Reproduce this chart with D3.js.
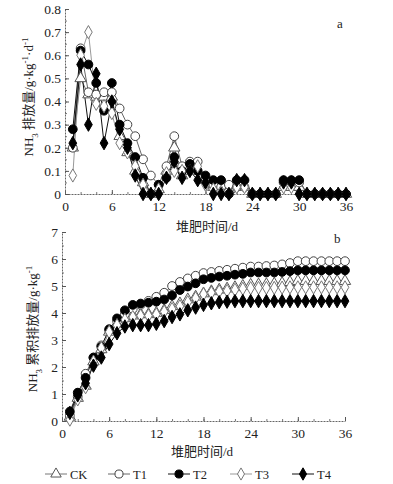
<!DOCTYPE html>
<html>
<head>
<meta charset="utf-8">
<script src="https://cdn.jsdelivr.net/npm/d3@7"></script>
<style>
  body { margin: 0; background: #fff; }
  svg text { font-family: "Liberation Serif", "Times New Roman", Times, serif; fill: #222; }
  svg text.cjk { font-family: "Liberation Serif", "Times New Roman", "Noto Sans CJK SC", serif; }
</style>
</head>
<body>
<div id="chart"></div>
<script>
let days = d3.range(1, 37);
let seriesNames = ["CK", "T1", "T2", "T3", "T4"];
let xTicks = [0, 6, 12, 18, 24, 30, 36];
let rateTicks = [0, 0.1, 0.2, 0.3, 0.4, 0.5, 0.6, 0.7, 0.8];
let cumTicks = [0, 1, 2, 3, 4, 5, 6, 7];

// daily NH3 emission, g/kg/d (panel a)
let rateCK = [0.2, 0.5, 0.43, 0.42, 0.42, 0.42, 0.25, 0.18, 0.1, 0.05, 0, 0.02, 0.1, 0.2, 0.08, 0.1, 0.1, 0.06, 0.03, 0.02, 0.02, 0.03, 0.03, 0, 0, 0, 0, 0.03, 0.03, 0.03, 0, 0, 0, 0, 0, 0];
let rateT1 = [0.2, 0.63, 0.44, 0.43, 0.44, 0.44, 0.37, 0.3, 0.25, 0.15, 0.08, 0.04, 0.12, 0.25, 0.12, 0.14, 0.14, 0.06, 0.04, 0.03, 0.04, 0.03, 0.03, 0, 0, 0, 0, 0.05, 0.05, 0.05, 0, 0, 0, 0, 0, 0];
let rateT2 = [0.28, 0.62, 0.56, 0.48, 0.36, 0.48, 0.3, 0.22, 0.16, 0.07, 0, 0.04, 0.07, 0.16, 0.1, 0.13, 0.1, 0.08, 0.06, 0.06, 0, 0.06, 0.06, 0, 0, 0, 0, 0.06, 0.06, 0.06, 0, 0, 0, 0, 0, 0];
let rateT3 = [0.08, 0.6, 0.7, 0.39, 0.38, 0.35, 0.22, 0.18, 0.12, 0.04, 0, 0.02, 0.09, 0.1, 0.1, 0.1, 0.12, 0.04, 0.02, 0.01, 0, 0.03, 0.03, 0, 0, 0, 0, 0.03, 0.03, 0, 0, 0, 0, 0, 0, 0];
let rateT4 = [0.22, 0.56, 0.3, 0.52, 0.22, 0.4, 0.28, 0.2, 0.08, 0, 0, 0, 0.07, 0.14, 0.07, 0.1, 0.06, 0.05, 0, 0, 0, 0.06, 0.06, 0, 0, 0, 0, 0.05, 0.05, 0, 0, 0, 0, 0, 0, 0];

// cumulative NH3 emission, g/kg (panel b)
let cumCK = [0.15, 0.85, 1.3, 2.2, 2.65, 3.3, 3.6, 3.8, 3.9, 3.95, 3.95, 4.0, 4.1, 4.25, 4.35, 4.5, 4.6, 4.72, 4.8, 4.86, 4.9, 4.95, 5.0, 5.04, 5.05, 5.06, 5.08, 5.1, 5.14, 5.18, 5.18, 5.18, 5.18, 5.18, 5.18, 5.18];
let cumT1 = [0.2, 0.9, 1.75, 2.35, 2.8, 3.35, 3.7, 3.95, 4.15, 4.3, 4.45, 4.6, 4.75, 5.0, 5.15, 5.28, 5.38, 5.48, 5.52, 5.56, 5.6, 5.64, 5.68, 5.72, 5.72, 5.74, 5.76, 5.8, 5.85, 5.92, 5.92, 5.92, 5.92, 5.92, 5.92, 5.92];
let cumT2 = [0.35, 1.05, 1.6, 2.35, 2.75, 3.4, 3.8, 4.1, 4.3, 4.35, 4.38, 4.42, 4.5, 4.65, 4.85, 4.98, 5.1, 5.25, 5.3, 5.35, 5.38, 5.42, 5.45, 5.5, 5.5, 5.5, 5.5, 5.52, 5.55, 5.58, 5.58, 5.58, 5.58, 5.58, 5.58, 5.58];
let cumT3 = [0.05, 0.8, 1.25, 2.2, 2.7, 3.3, 3.55, 3.75, 3.85, 3.9, 3.9, 3.95, 4.05, 4.15, 4.25, 4.4, 4.55, 4.7, 4.75, 4.8, 4.82, 4.86, 4.9, 4.92, 4.93, 4.93, 4.93, 4.94, 4.95, 4.95, 4.95, 4.95, 4.95, 4.95, 4.95, 4.95];
let cumT4 = [0.3, 0.95, 1.4, 2.05, 2.35, 2.85, 3.25, 3.5, 3.55, 3.55, 3.55, 3.6, 3.7, 3.85, 3.95, 4.1, 4.2, 4.3, 4.36, 4.4, 4.42, 4.44, 4.44, 4.44, 4.44, 4.44, 4.44, 4.44, 4.44, 4.44, 4.44, 4.44, 4.44, 4.44, 4.44, 4.44];

let rates = [rateCK, rateT1, rateT2, rateT3, rateT4];
let cums = [cumCK, cumT1, cumT2, cumT3, cumT4];

// marker style per series
let styles = [
    {sym: d3.symbolTriangle, size: 56, fill: "#fff", stroke: "#555", line: "#777"},
    {sym: d3.symbolCircle, size: 60, fill: "#fff", stroke: "#444", line: "#666"},
    {sym: d3.symbolCircle, size: 60, fill: "#000", stroke: "#000", line: "#111"},
    {sym: d3.symbolDiamond, size: 50, fill: "#fff", stroke: "#777", line: "#999"},
    {sym: d3.symbolDiamond, size: 52, fill: "#000", stroke: "#000", line: "#111"}
];

let svg = d3.select("#chart").append("svg")
    .attr("width", 393)
    .attr("height", 484);

function drawPanel(opts) {
    let x = d3.scaleLinear().domain([0, 36]).range([opts.x0, opts.x1]);
    let y = d3.scaleLinear().domain(opts.yDomain).range([opts.y0, opts.y1]);
    let g = svg.append("g");

    // minor ticks
    g.append("g").attr("transform", "translate(0," + opts.y0 + ")")
        .call(d3.axisBottom(x).tickValues(d3.range(0, 37, 2)).tickSize(-2).tickFormat(""))
        .call(a => a.select(".domain").remove())
        .call(a => a.selectAll("line").attr("stroke", "#777"));
    g.append("g").attr("transform", "translate(" + opts.x0 + ",0)")
        .call(d3.axisLeft(y).tickValues(opts.minor).tickSize(-2).tickFormat(""))
        .call(a => a.select(".domain").remove())
        .call(a => a.selectAll("line").attr("stroke", "#777"));

    let xa = g.append("g").attr("transform", "translate(0," + opts.y0 + ")")
        .call(d3.axisBottom(x).tickValues(xTicks).tickSizeInner(-4).tickSizeOuter(0).tickPadding(7));
    let ya = g.append("g").attr("transform", "translate(" + opts.x0 + ",0)")
        .call(d3.axisLeft(y).tickValues(opts.ticks).tickSizeInner(-4).tickSizeOuter(0).tickPadding(4)
            .tickFormat(opts.fmt));
    [xa, ya].forEach(a => {
        a.attr("font-family", null);
        a.select(".domain").attr("stroke", "#666").attr("stroke-dasharray", "2,1");
        a.selectAll(".tick line").attr("stroke", "#555");
        a.selectAll("text").style("font-size", "13.5px").attr("fill", "#222");
    });

    let line = d3.line().x((d, i) => x(days[i])).y(d => y(d));
    opts.data.forEach((s, k) => {
        let st = styles[k];
        g.append("path").datum(s)
            .attr("d", line)
            .attr("fill", "none")
            .attr("stroke", st.line)
            .attr("stroke-width", 1);
    });
    opts.data.forEach((s, k) => {
        let st = styles[k];
        g.append("g").selectAll("path").data(s).join("path")
            .attr("transform", (d, i) => "translate(" + x(days[i]) + "," + y(d) + ")")
            .attr("d", d3.symbol().type(st.sym).size(st.size))
            .attr("fill", st.fill)
            .attr("stroke", st.stroke)
            .attr("stroke-width", 1);
    });

    // x title
    g.append("text").attr("class", "cjk")
        .attr("x", opts.xTitleX).attr("y", opts.xTitleY)
        .attr("text-anchor", "middle").style("font-size", "13px")
        .text("堆肥时间/d");
    // panel letter
    g.append("text").attr("x", opts.letterX).attr("y", opts.letterY)
        .style("font-size", "13px").text(opts.letter);
    // y title
    let yt = g.append("text").attr("class", "cjk")
        .attr("transform", "translate(" + opts.yTitleX + "," + opts.yTitleY + ") rotate(-90)")
        .attr("text-anchor", "middle").style("font-size", "13px");
    opts.yTitle.forEach(p => {
        let t = yt.append("tspan").text(p[0]);
        if (p[1]) t.attr("baseline-shift", p[1]).style("font-size", "9px");
    });
}

drawPanel({
    x0: 65, x1: 346, y0: 194, y1: 9,
    yDomain: [0, 0.8], ticks: rateTicks, minor: d3.range(0, 0.81, 0.05),
    fmt: d => d === 0 ? "0" : d3.format(".1f")(d),
    data: rates,
    xTitleX: 207, xTitleY: 231,
    letter: "a", letterX: 337, letterY: 28,
    yTitleX: 33, yTitleY: 97,
    yTitle: [["NH"], ["3", "sub"], [" 排放量/g·kg"], ["-1", "super"], ["·d"], ["-1", "super"]]
});

drawPanel({
    x0: 62, x1: 345, y0: 421, y1: 232,
    yDomain: [0, 7], ticks: cumTicks, minor: d3.range(0, 7.01, 0.5),
    fmt: d3.format("d"),
    data: cums,
    xTitleX: 202, xTitleY: 456,
    letter: "b", letterX: 334, letterY: 243,
    yTitleX: 37, yTitleY: 329,
    yTitle: [["NH"], ["3", "sub"], [" 累积排放量/g·kg"], ["-1", "super"]]
});

// legend
let legendX = [45, 108, 168, 230, 292];
let legend = svg.append("g").attr("transform", "translate(0,474)");
seriesNames.forEach((name, k) => {
    let st = styles[k];
    let lx = legendX[k];
    legend.append("line").attr("x1", lx).attr("x2", lx + 22).attr("y1", 0).attr("y2", 0)
        .attr("stroke", st.line).attr("stroke-width", 1);
    legend.append("path").attr("transform", "translate(" + (lx + 11) + ",0)")
        .attr("d", d3.symbol().type(st.sym).size(st.size * 0.85))
        .attr("fill", st.fill).attr("stroke", st.stroke);
    legend.append("text").attr("x", lx + 25).attr("y", 4.5)
        .style("font-size", "12.5px").text(name);
});
</script>
</body>
</html>
